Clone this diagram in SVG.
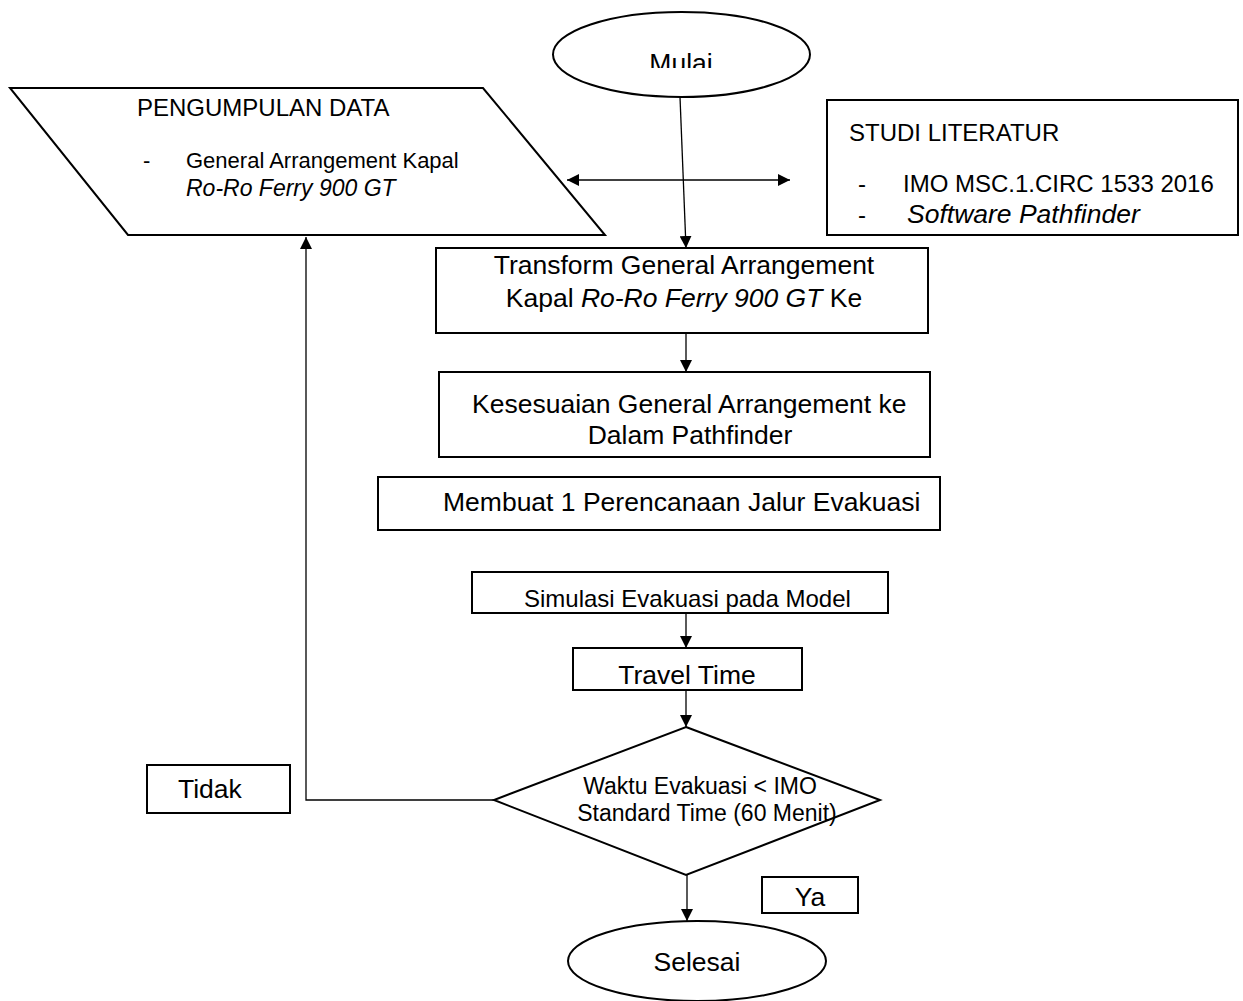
<svg xmlns="http://www.w3.org/2000/svg" width="1243" height="1001" viewBox="0 0 1243 1001">
<style>
.shape{fill:#fff;stroke:#000;stroke-width:2}
.conn{fill:none;stroke:#000;stroke-width:1.3}
text{font-family:"Liberation Sans",Arial,sans-serif;fill:#000}
.t26{font-size:26.5px}
.t24{font-size:24px}
.t23{font-size:23px}
.t22{font-size:22px}
.it{font-style:italic}
.mid{text-anchor:middle}
</style>
<defs>
<marker id="ah" viewBox="0 0 12 12" refX="12" refY="6" markerWidth="12" markerHeight="12" markerUnits="userSpaceOnUse" orient="auto-start-reverse">
<path d="M0,0 L12,6 L0,12 Z" fill="#000"/>
</marker>
<clipPath id="mulaiClip"><rect x="560" y="20" width="240" height="48"/></clipPath>
</defs>
<rect width="1243" height="1001" fill="#fff"/>

<g id="connectors">
<line class="conn" x1="680" y1="97" x2="686" y2="248" marker-end="url(#ah)"/>
<line class="conn" x1="567" y1="180" x2="790" y2="180" marker-start="url(#ah)" marker-end="url(#ah)"/>
<line class="conn" x1="686" y1="333" x2="686" y2="372" marker-end="url(#ah)"/>
<line class="conn" x1="686" y1="613" x2="686" y2="648" marker-end="url(#ah)"/>
<line class="conn" x1="686" y1="690" x2="686" y2="727" marker-end="url(#ah)"/>
<polyline class="conn" points="494,800 306,800 306,237" marker-end="url(#ah)"/>
<line class="conn" x1="687" y1="850" x2="687" y2="921" marker-end="url(#ah)"/>
</g>

<g id="mulai">
<ellipse class="shape" cx="681.5" cy="54.5" rx="128.5" ry="42.5"/>
<text class="t26 mid" x="681" y="72" clip-path="url(#mulaiClip)">Mulai</text>
</g>

<g id="pengumpulan-data">
<polygon class="shape" points="10,88 483,88 605,235 128,235"/>
<text class="t24" x="137" y="116">PENGUMPULAN DATA</text>
<text class="t22" x="143" y="168">-</text>
<text class="t22" x="186" y="168">General Arrangement Kapal</text>
<text class="t23 it" x="186" y="196">Ro-Ro Ferry 900 GT</text>
</g>

<g id="studi-literatur">
<rect class="shape" x="827" y="100" width="411" height="135"/>
<text class="t24" x="849" y="141">STUDI LITERATUR</text>
<text class="t24" x="858" y="192">-</text>
<text class="t24" x="903" y="192">IMO MSC.1.CIRC 1533 2016</text>
<text class="t24" x="858" y="223">-</text>
<text class="t26 it" x="907" y="223">Software Pathfinder</text>
</g>

<g id="transform">
<rect class="shape" x="436" y="248" width="492" height="85"/>
<text class="t26 mid" x="684" y="274">Transform General Arrangement</text>
<text class="t26 mid" x="684" y="307">Kapal <tspan class="it">Ro-Ro Ferry 900 GT</tspan> Ke</text>
</g>

<g id="kesesuaian">
<rect class="shape" x="439" y="372" width="491" height="85"/>
<text class="t26" x="472" y="413">Kesesuaian General Arrangement ke</text>
<text class="t26 mid" x="690" y="444">Dalam Pathfinder</text>
</g>

<g id="membuat">
<rect class="shape" x="378" y="477" width="562" height="53"/>
<text class="t26" x="443" y="511">Membuat 1 Perencanaan Jalur Evakuasi</text>
</g>

<g id="simulasi">
<rect class="shape" x="472" y="572" width="416" height="41"/>
<text class="t24" x="524" y="607">Simulasi Evakuasi pada Model</text>
</g>

<g id="travel-time">
<rect class="shape" x="573" y="648" width="229" height="42"/>
<text class="t26 mid" x="687" y="684">Travel Time</text>
</g>

<g id="keputusan">
<polygon class="shape" points="686,727 880,800 686,875 494,800"/>
<text class="t23 mid" x="700" y="794">Waktu Evakuasi &lt; IMO</text>
<text class="t23 mid" x="707" y="821">Standard Time (60 Menit)</text>
</g>

<g id="tidak">
<rect class="shape" x="147" y="765" width="143" height="48"/>
<text class="t26" x="178" y="798">Tidak</text>
</g>

<g id="ya">
<rect class="shape" x="762" y="877" width="96" height="36"/>
<text class="t26 mid" x="810" y="906">Ya</text>
</g>

<g id="selesai">
<ellipse class="shape" cx="697" cy="961" rx="129" ry="40"/>
<text class="t26 mid" x="697" y="971">Selesai</text>
</g>
</svg>
